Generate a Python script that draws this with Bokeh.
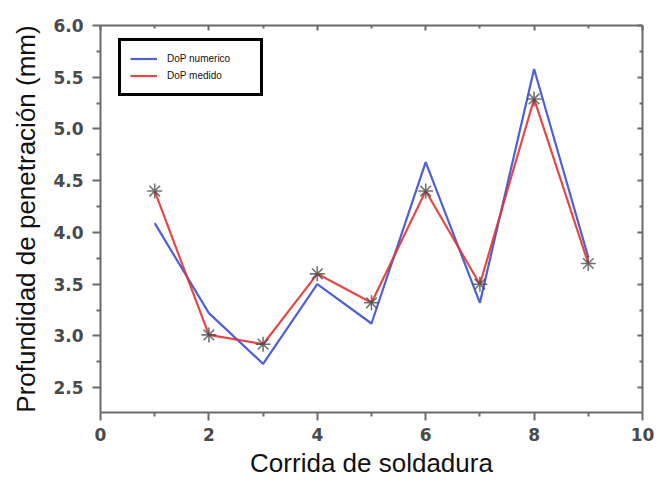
from bokeh.plotting import figure
from bokeh.models import LinearAxis, Range1d, FixedTicker, Legend, LegendItem, NumeralTickFormatter
from bokeh.embed import file_html
from bokeh.resources import INLINE

runs = [1, 2, 3, 4, 5, 6, 7, 8, 9]
dop_numerico = [4.09, 3.22, 2.73, 3.50, 3.12, 4.68, 3.32, 5.58, 3.76]
dop_medido = [4.40, 3.01, 2.92, 3.60, 3.32, 4.40, 3.50, 5.29, 3.70]
x_ticks = [0, 2, 4, 6, 8, 10]
x_minor = [1, 3, 5, 7, 9]
y_ticks = [2.5, 3.0, 3.5, 4.0, 4.5, 5.0, 5.5, 6.0]
y_minor = [2.75, 3.25, 3.75, 4.25, 4.75, 5.25, 5.75]

p = figure(width=658, height=482, output_backend="svg", toolbar_location=None,
           x_range=Range1d(0, 10), y_range=Range1d(2.26, 6.0),
           min_border_left=100, min_border_right=16, min_border_top=25, min_border_bottom=70)
p.outline_line_color = None
p.xgrid.visible = False
p.ygrid.visible = False

axis_color = "#6a6a6a"
tick_font = "DejaVu Sans"

xb = p.xaxis[0]
xb.ticker = FixedTicker(ticks=x_ticks, minor_ticks=x_minor)
yl = p.yaxis[0]
yl.ticker = FixedTicker(ticks=y_ticks, minor_ticks=y_minor)
yl.formatter = NumeralTickFormatter(format="0.0")

xt = LinearAxis(ticker=FixedTicker(ticks=x_ticks, minor_ticks=x_minor))
yr = LinearAxis(ticker=FixedTicker(ticks=y_ticks, minor_ticks=y_minor))
p.add_layout(xt, "above")
p.add_layout(yr, "right")

for ax, ins in [(xb, False), (yl, False), (xt, True), (yr, True)]:
    ax.axis_line_color = axis_color
    ax.axis_line_width = 2
    ax.major_tick_line_color = axis_color
    ax.minor_tick_line_color = axis_color
    ax.major_tick_line_width = 2
    ax.minor_tick_line_width = 2
    if ins:
        ax.major_tick_in, ax.major_tick_out = 5, 0
        ax.minor_tick_in, ax.minor_tick_out = 3, 0
        ax.major_label_text_font_size = "0px"
        ax.major_label_text_color = None
        ax.major_label_standoff = 0
    else:
        ax.major_tick_in, ax.major_tick_out = 0, 8
        ax.minor_tick_in, ax.minor_tick_out = 0, 4
        ax.major_label_text_font = tick_font
        ax.major_label_text_font_style = "bold"
        ax.major_label_text_font_size = "17px"
        ax.major_label_text_color = "#4a4a4a"

yl.major_label_standoff = 9
xb.major_label_standoff = 7

xb.axis_label = "Corrida de soldadura"
yl.axis_label = "Profundidad de penetración (mm)"
for ax in (xb, yl):
    ax.axis_label_text_font = "Liberation Sans"
    ax.axis_label_text_font_style = "normal"
    ax.axis_label_text_font_size = "26px"
    ax.axis_label_text_color = "#111111"
xb.axis_label_standoff = 4
yl.axis_label_standoff = 9

r_blue = p.line(runs, dop_numerico, line_color="#3a4fd0", line_width=2.2, line_alpha=0.9)
r_red = p.line(runs, dop_medido, line_color="#e03535", line_width=2.2, line_alpha=0.9)
p.scatter(runs, dop_medido, marker="asterisk", size=15, line_color="#444444", line_width=1.6, line_alpha=0.75)

legend = Legend(items=[LegendItem(label="DoP numerico", renderers=[r_blue]),
                       LegendItem(label="DoP medido", renderers=[r_red])],
                location=(18, 316))
legend.border_line_color = "black"
legend.border_line_alpha = 1.0
legend.border_line_width = 3
legend.background_fill_color = "white"
legend.background_fill_alpha = 1.0
legend.padding = 9
legend.margin = 0
legend.spacing = 0
legend.glyph_width = 27
legend.glyph_height = 17
legend.label_standoff = 10
legend.label_width = 84
legend.label_height = 17
legend.label_text_font = "Liberation Sans"
legend.label_text_font_size = "10px"
legend.label_text_color = "#111111"
p.add_layout(legend, "center")

open("out.html", "w").write(file_html(p, INLINE))
